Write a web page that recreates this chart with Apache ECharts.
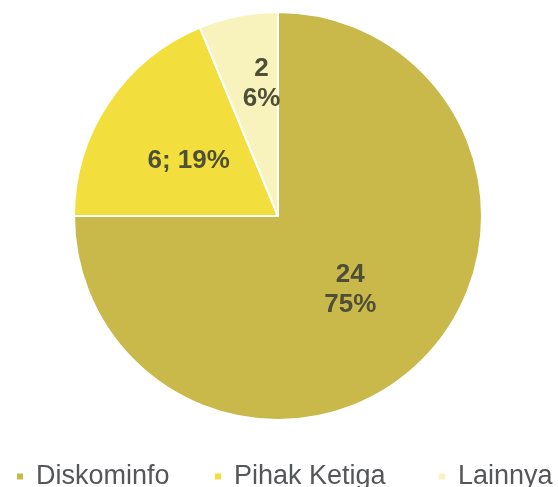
<!DOCTYPE html>
<html>
<head>
<meta charset="utf-8">
<script src="https://cdn.jsdelivr.net/npm/echarts@6/dist/echarts.min.js"></script>
<style>
html,body{margin:0;padding:0;background:#fff;}
#chart{width:558px;height:487px;}
</style>
</head>
<body>
<div id="chart"></div>
<script>
var categories = ['Diskominfo', 'Pihak Ketiga', 'Lainnya'];
var values = [24, 6, 2];
var colors = ['#c9b94a', '#f2df3e', '#f8f3bd'];
var labelFormats = ['{c}\n{d}%', '{c}; {d}%', '{c}\n{d}%'];
var labelOffsets = [[-2, 0], [-2, 3], [4, -29]];
var legendLefts = [10, 208, 432];

var chart = echarts.init(document.getElementById('chart'));
var data = categories.map(function (name, i) {
  return {
    name: name,
    value: values[i],
    itemStyle: { color: colors[i] },
    label: { formatter: labelFormats[i], offset: labelOffsets[i] }
  };
});
var legends = categories.map(function (name, i) {
  return {
    left: legendLefts[i],
    top: 458,
    icon: 'rect',
    itemWidth: 8,
    itemHeight: 8,
    textStyle: {
      fontFamily: 'Liberation Sans, Arial, sans-serif',
      fontSize: 27,
      color: '#55565a',
      padding: [0, 0, 0, 7]
    },
    data: [name]
  };
});
chart.setOption({
  animation: false,
  backgroundColor: '#ffffff',
  legend: legends,
  series: [{
    type: 'pie',
    center: [278, 216],
    radius: 204,
    startAngle: 90,
    clockwise: true,
    percentPrecision: 0,
    itemStyle: { borderColor: '#ffffff', borderWidth: 2 },
    label: {
      show: true,
      position: 'inside',
      fontFamily: 'Liberation Sans, Arial, sans-serif',
      fontSize: 26,
      fontWeight: 'bold',
      lineHeight: 30,
      color: '#4f4f38'
    },
    labelLine: { show: false },
    emphasis: { disabled: true },
    data: data
  }]
});
</script>
</body>
</html>
